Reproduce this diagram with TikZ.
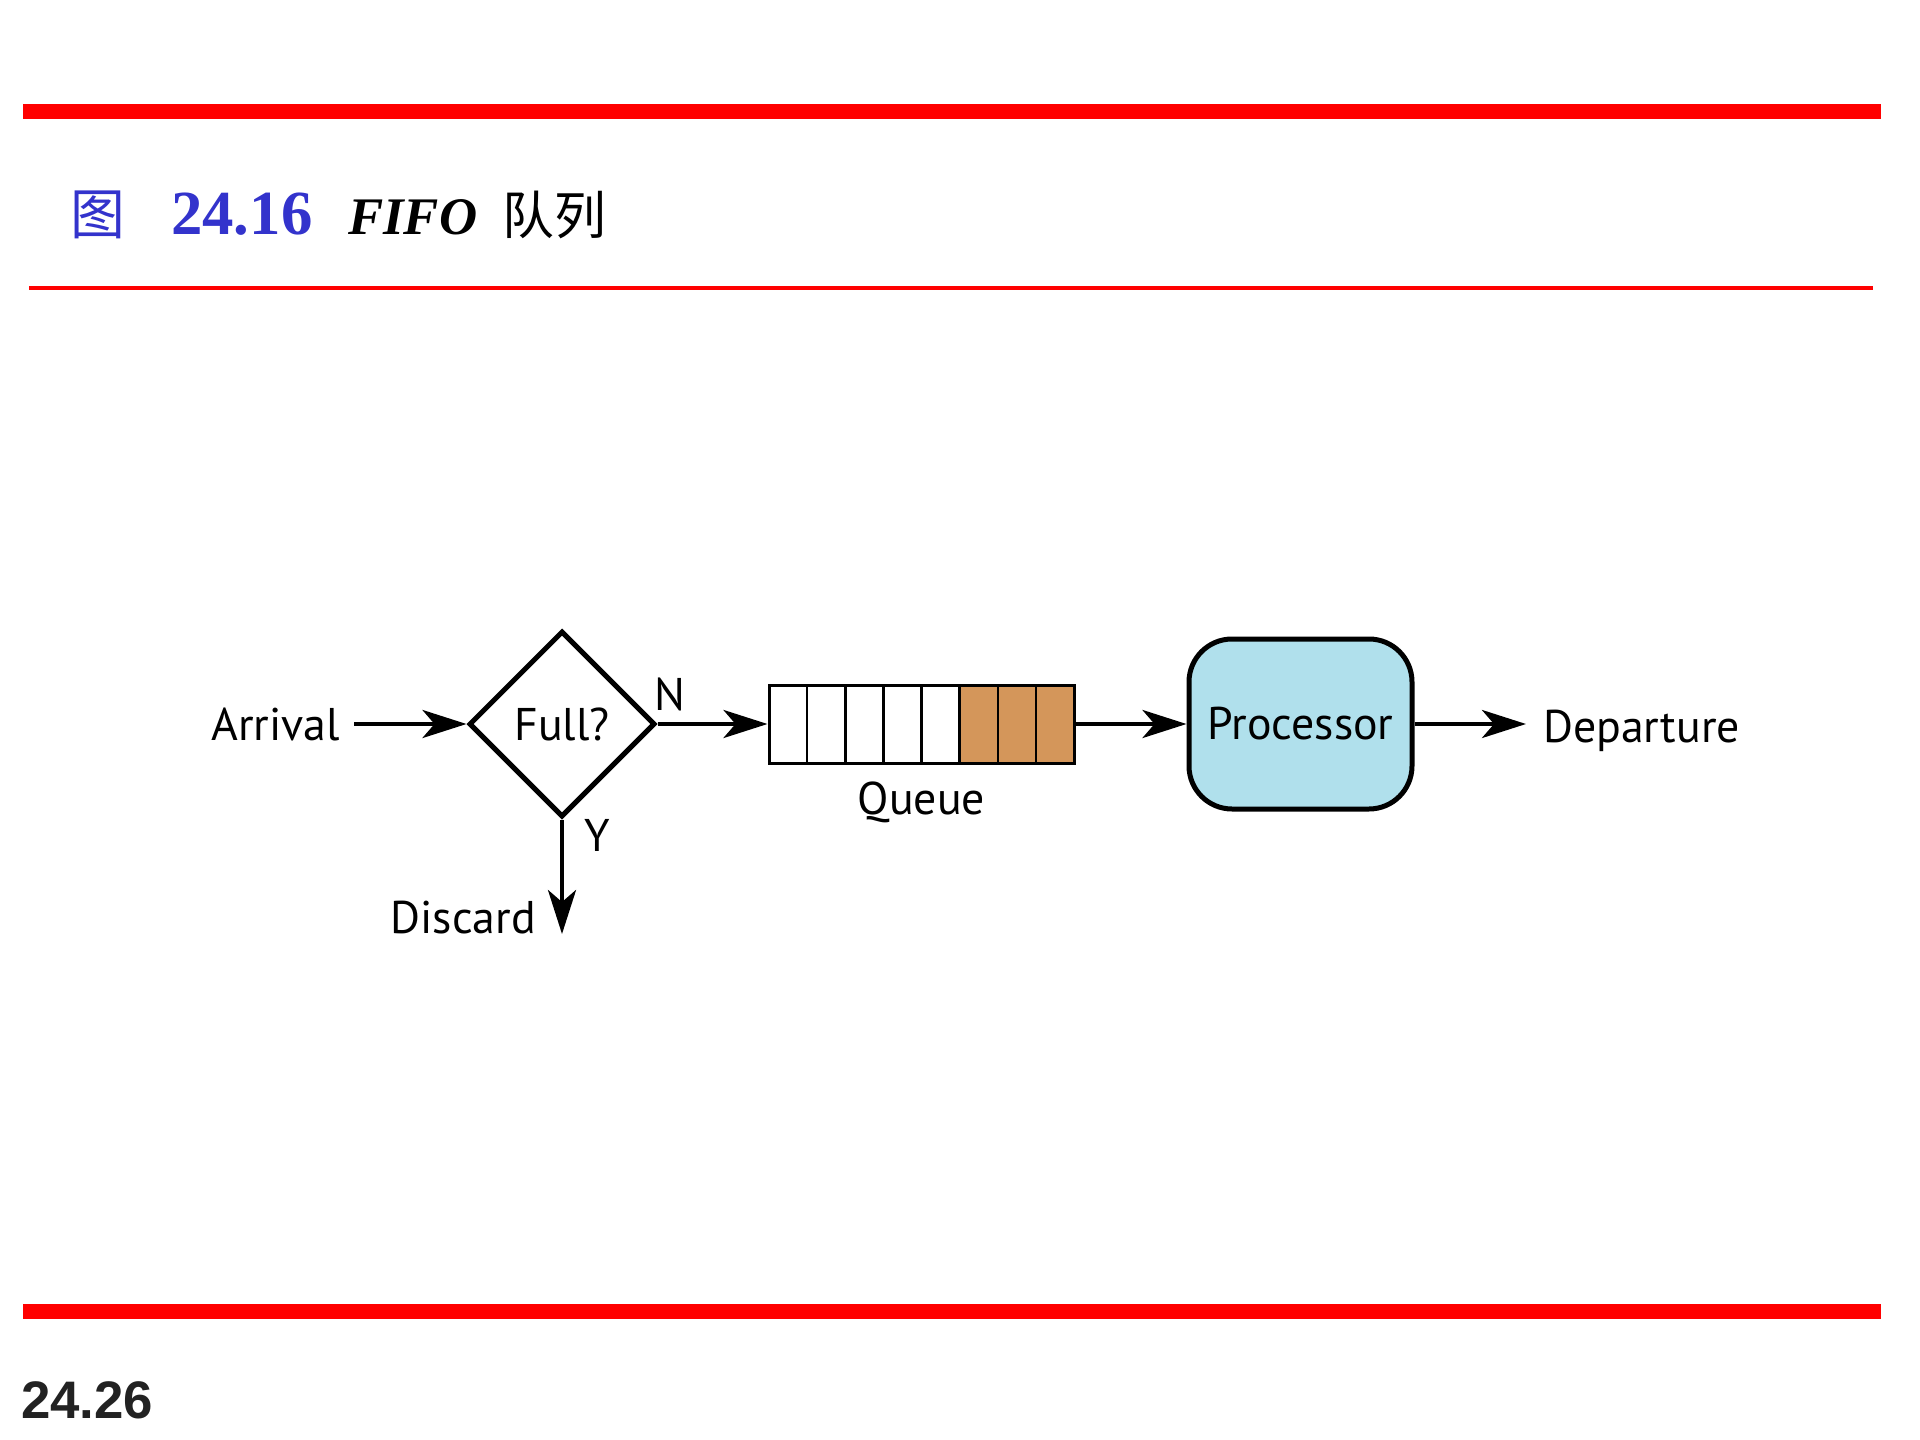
\documentclass[tikz,border=0pt]{standalone}
\usepackage{fontspec}
\setmainfont{Liberation Serif}
\newfontfamily\diagfont{PT Sans}
\newfontfamily\cjkfont{Noto Sans CJK SC}
\newfontfamily\pagefont{Liberation Sans}
\usetikzlibrary{shapes.geometric, arrows.meta, calc}

\definecolor{barred}{RGB}{255,0,0}
\definecolor{titleblue}{RGB}{51,51,204}
\definecolor{slotfill}{RGB}{212,150,90}
\definecolor{procfill}{RGB}{176,224,236}
\definecolor{pagegray}{RGB}{34,34,34}

\begin{document}
\begin{tikzpicture}[x=1bp,y=-1bp,
  lbl/.style={font=\diagfont\fontsize{46}{50}\selectfont, inner sep=0pt},
  flow/.style={line width=4.3bp, -{Stealth[length=44bp,width=28bp,inset=12bp]}},
]
\useasboundingbox (0,0) rectangle (1920,1440);
\fill[white] (0,0) rectangle (1920,1440);

% page rules
\fill[barred] (23,104) rectangle (1881,119);
\fill[barred] (29,286) rectangle (1873,290);
\fill[barred] (23,1304) rectangle (1881,1319);

% heading
\node[anchor=base west, inner sep=0pt, text=titleblue, font=\cjkfont\fontsize{55}{60}\selectfont] (tfig) at (70,235) {图};
\node[anchor=base west, inner sep=0pt, text=titleblue, font=\bfseries\fontsize{63}{68}\selectfont] (tnum) at (171,235) {24.16};
\node[anchor=base west, inner sep=0pt, font=\bfseries\itshape\fontsize{53}{58}\selectfont] (tfifo) at (348,235) {FIFO};
\node[anchor=base west, inner sep=0pt, font=\cjkfont\fontsize{52}{56}\selectfont] (tq) at (502,235) {队列};

% page number
\node[anchor=base west, inner sep=0pt, text=pagegray, font=\pagefont\bfseries\fontsize{53}{58}\selectfont] (pnum) at (21,1418) {24.26};

% decision
\node[lbl, anchor=east] (arr) at (340,724) {Arrival};
\node[draw, diamond, line width=5bp, minimum width=186bp, minimum height=186bp, inner sep=0pt,
      font=\diagfont\fontsize{46}{50}\selectfont] (dia) at (562,724) {Full?};
\node[lbl, anchor=base west] (nlab) at (654,710) {N};
\node[lbl, anchor=base west] (ylab) at (584,851) {Y};

% queue slots
\fill[slotfill] (959.6,685) rectangle (1074,763);
\foreach \i in {1,...,7}
  \draw[line width=2.5bp] ({769+38.125*\i},685) -- ({769+38.125*\i},763);
\node[draw, line width=3bp, minimum width=305bp, minimum height=78bp, inner sep=0pt] (q) at (921.5,724) {};
\node[lbl, anchor=base] (qlab) at (921.5,814) {Queue};

% processor
\node[draw, line width=5bp, fill=procfill, rounded corners=43bp,
      minimum width=223bp, minimum height=170bp, inner sep=0pt,
      font=\diagfont\fontsize{46}{50}\selectfont] (proc) at (1300.5,724) {Processor};
\node[lbl, anchor=base west] (dep) at (1543,742) {Departure};

% discard
\coordinate (dend) at (562,934);
\node[lbl, anchor=base east] (disc) at (536,933) {Discard};

% connectors
\draw[flow, shorten <=14bp] (arr.east) -- (dia.west);
\draw[flow] (dia.east) -- (q.west);
\draw[flow] (q.east) -- (proc.west);
\draw[flow, shorten >=17bp] (proc.east) -- (proc.east -| dep.west);
\draw[flow] (dia.south) -- (dend);
\end{tikzpicture}
\end{document}
